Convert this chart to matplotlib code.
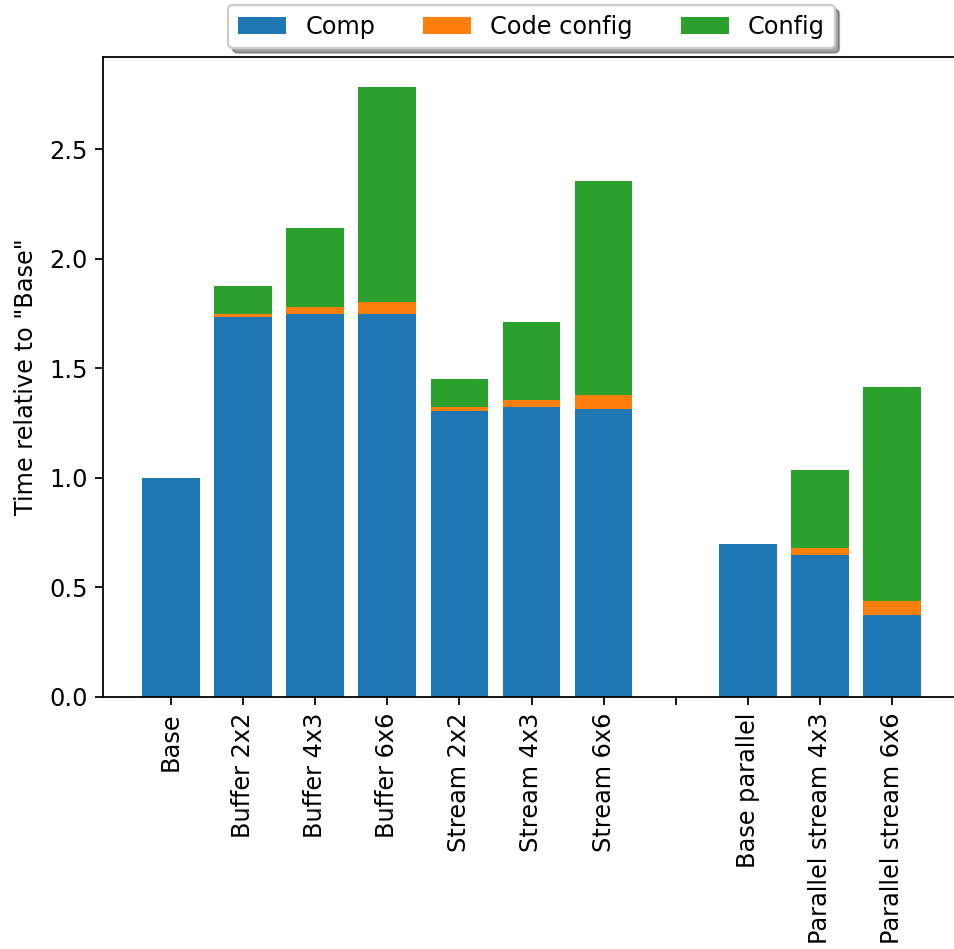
import matplotlib
matplotlib.use("Agg")
import matplotlib.pyplot as plt
import numpy as np

labels = ["Base", "Buffer 2x2", "Buffer 4x3", "Buffer 6x6",
          "Stream 2x2", "Stream 4x3", "Stream 6x6", "",
          "Base parallel", "Parallel stream 4x3", "Parallel stream 6x6"]
comp = [1.0, 1.735, 1.75, 1.75, 1.307, 1.324, 1.315, 0, 0.698, 0.65, 0.373]
code_config = [0, 0.015, 0.032, 0.055, 0.017, 0.030, 0.064, 0, 0, 0.032, 0.064]
config = [0, 0.126, 0.361, 0.978, 0.128, 0.357, 0.979, 0, 0, 0.355, 0.980]

plt.rcParams["font.size"] = 10.8

x = np.arange(len(labels))
comp = np.array(comp)
code_config = np.array(code_config)
config = np.array(config)

fig = plt.figure(figsize=(954 / 160, 949 / 160), dpi=160)
# right edge of the axes is cut off in the reference image
ax = fig.add_axes([103 / 954, 1 - 697 / 949, 857 / 954, 640 / 949])

ax.bar(x, comp, label="Comp")
ax.bar(x, code_config, bottom=comp, label="Code config")
ax.bar(x, config, bottom=comp + code_config, label="Config")
ax.spines["right"].set_visible(False)

ax.set_xticks(x)
ax.set_xticklabels(labels, rotation=90)
ax.set_ylabel('Time relative to "Base"', labelpad=5)
ax.legend(loc="upper center", bbox_to_anchor=(0.5, 1.1), ncol=3,
          fancybox=True, shadow=True)

fig.savefig("out.png", dpi=160)
